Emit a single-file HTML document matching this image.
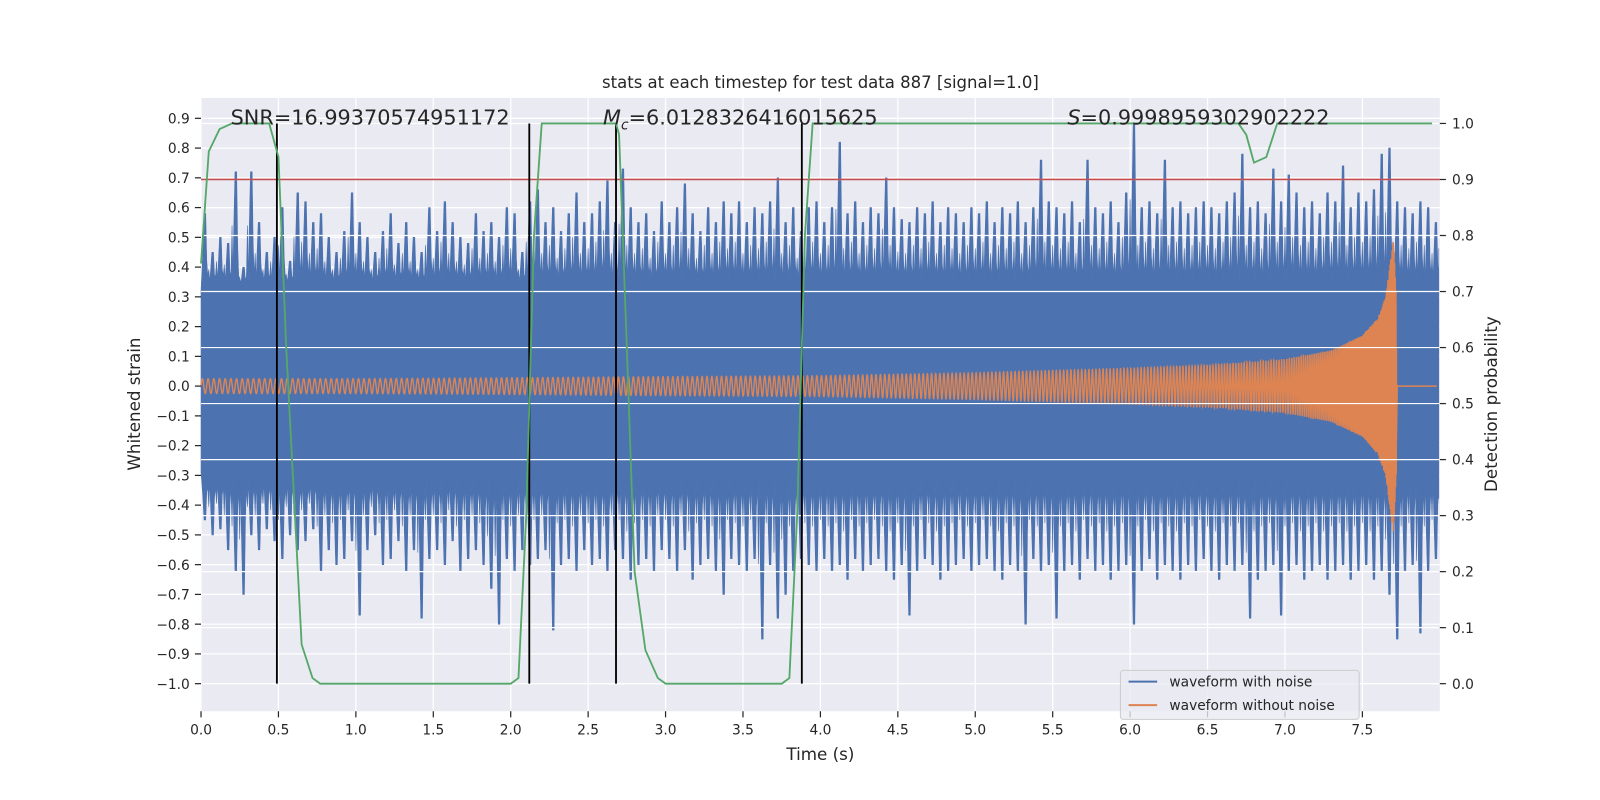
<!DOCTYPE html>
<html><head><meta charset="utf-8"><style>
html,body{margin:0;padding:0;background:#fff;width:1600px;height:800px;overflow:hidden;}
svg{display:block;font-family:"DejaVu Sans","Liberation Sans",sans-serif;}
</style></head><body>
<svg id="c" width="1600" height="800" viewBox="0 0 1568 784" preserveAspectRatio="xMinYMin meet" xmlns="http://www.w3.org/2000/svg">
<rect x="197" y="96" width="1214" height="601" fill="#EAEAF2"/>
<g id="gridL"></g><g id="blue"></g><g id="orange"></g><g id="gridR"></g><g id="marks"></g><g id="axes"></g>
<text x="804" y="86" font-size="16.2" text-anchor="middle" fill="#262626">stats at each timestep for test data 887 [signal=1.0]</text>
<text x="226" y="122" font-size="20.4" fill="#262626">SNR=16.99370574951172</text>
<text x="591" y="122" font-size="20.4" fill="#262626"><tspan font-style="italic">M</tspan><tspan font-style="italic" font-size="13.5" dy="5">c</tspan><tspan dy="-5">=6.0128326416015625</tspan></text>
<text x="1046" y="122" font-size="20.4" fill="#262626"><tspan font-style="italic">S</tspan>=0.9998959302902222</text>
<text x="804" y="745" font-size="16.4" text-anchor="middle" fill="#262626">Time (s)</text>
<text transform="translate(137,396) rotate(-90)" font-size="16.4" text-anchor="middle" fill="#262626">Whitened strain</text>
<text transform="translate(1467,396) rotate(-90)" font-size="16.4" text-anchor="middle" fill="#262626">Detection probability</text>
<g>
<rect x="1098" y="657" width="234" height="48" rx="3" fill="#EAEAF2" fill-opacity="0.8" stroke="#CCCCCC"/>
<line x1="1106" y1="668" x2="1134" y2="668" stroke="#4C72B0" stroke-width="2"/>
<text x="1146" y="673" font-size="13.5" fill="#262626">waveform with noise</text>
<line x1="1106" y1="691" x2="1134" y2="691" stroke="#DD8452" stroke-width="2"/>
<text x="1146" y="696" font-size="13.5" fill="#262626">waveform without noise</text>
</g>
</svg>
<script>
const upperSpikes=[.58,.45,.50,.48,.72,.40,.72,.55,.45,.50,.60,.42,.65,.62,.55,.58,.50,.45,.52,.65,.55,.50,.45,.52,.58,.48,.55,.50,.45,.60,.52,.62,.55,.50,.48,.58,.52,.55,.50,.60,.58,.45,.62,.66,.55,.60,.52,.58,.65,.55,.58,.62,.69,.55,.73,.60,.55,.58,.52,.62,.55,.60,.68,.58,.52,.60,.55,.62,.58,.62,.55,.60,.58,.62,.70,.55,.60,.52,.60,.62,.55,.60,.82,.58,.62,.55,.60,.58,.70,.60,.56,.55,.60,.58,.62,.55,.60,.58,.55,.60,.58,.62,.55,.60,.58,.62,.55,.60,.76,.62,.60,.58,.62,.55,.76,.60,.58,.62,.55,.65,.88,.60,.62,.58,.76,.60,.62,.58,.60,.62,.60,.58,.62,.65,.78,.60,.62,.58,.73,.62,.71,.65,.60,.62,.58,.65,.62,.74,.60,.65,.62,.66,.78,.80,.62,.60,.58,.62,.60,.55];
const lowerSpikes=[-.45,-.50,-.48,-.55,-.62,-.70,-.50,-.55,-.48,-.52,-.58,-.50,-.55,-.52,-.48,-.62,-.55,-.60,-.58,-.52,-.77,-.55,-.50,-.60,-.58,-.52,-.62,-.55,-.78,-.58,-.55,-.60,-.52,-.62,-.58,-.55,-.60,-.68,-.80,-.58,-.62,-.55,-.60,-.58,-.55,-.82,-.60,-.58,-.62,-.55,-.60,-.58,-.62,-.55,-.58,-.65,-.60,-.58,-.62,-.55,-.58,-.62,-.55,-.65,-.60,-.58,-.62,-.70,-.58,-.60,-.62,-.58,-.85,-.60,-.78,-.70,-.62,-.58,-.60,-.62,-.58,-.62,-.60,-.65,-.58,-.62,-.60,-.58,-.62,-.65,-.60,-.77,-.62,-.58,-.60,-.65,-.62,-.60,-.58,-.62,-.60,-.58,-.62,-.65,-.60,-.62,-.80,-.58,-.62,-.60,-.78,-.62,-.60,-.65,-.58,-.62,-.60,-.65,-.62,-.60,-.80,-.62,-.58,-.65,-.60,-.62,-.65,-.60,-.62,-.58,-.62,-.65,-.60,-.62,-.60,-.78,-.65,-.62,-.60,-.77,-.62,-.60,-.65,-.62,-.60,-.65,-.62,-.60,-.65,-.62,-.60,-.65,-.62,-.70,-.85,-.62,-.60,-.83,-.62,-.58];
const noiseCore=[0.32,-0.29];
const chirpTimes=[0,1,2,3,4,5,6,6.5,7,7.3,7.5,7.6,7.65,7.7,7.72];
const chirpAmps=[0.025,0.025,0.028,0.032,0.035,0.045,0.06,0.07,0.09,0.12,0.17,0.23,0.3,0.5,0.3];
const chirpFreqTimes=[0,4,6,7,7.5,7.72];
const chirpFreqs=[27,33,45,60,100,250];
const probTimes=[0,0.05,0.12,0.2,0.44,0.5,0.55,0.65,0.72,0.77,2.0,2.05,2.1,2.15,2.2,2.68,2.7,2.75,2.8,2.87,2.95,3.0,3.75,3.8,3.85,3.9,3.95,6.7,6.75,6.8,6.88,6.95,7.95];
const probVals=[0.75,0.95,0.99,1.0,1.0,0.94,0.6,0.07,0.01,0,0,0.01,0.3,0.8,1.0,1.0,0.98,0.6,0.2,0.06,0.01,0,0,0.01,0.3,0.8,1.0,1.0,0.98,0.93,0.94,1.0,1.0];
const threshold=0.9;
const splitTimes=[0.49,2.12,2.68,3.88];
const xTicks=[0,0.5,1,1.5,2,2.5,3,3.5,4,4.5,5,5.5,6,6.5,7,7.5];
const yTicks=[0.9,0.8,0.7,0.6,0.5,0.4,0.3,0.2,0.1,0,-0.1,-0.2,-0.3,-0.4,-0.5,-0.6,-0.7,-0.8,-0.9,-1.0];
const y2Ticks=[0,0.1,0.2,0.3,0.4,0.5,0.6,0.7,0.8,0.9,1.0];

const NS="http://www.w3.org/2000/svg";
const X=t=>197+t*151.75, Y=v=>378.4-v*291.6, Y2=p=>670-p*549;
function mk(tag,parent,attrs){const e=document.createElementNS(NS,tag);for(const k in attrs)e.setAttribute(k,attrs[k]);document.getElementById(parent).appendChild(e);return e;}
function interp(xs,ys,x){if(x<=xs[0])return ys[0];for(let i=1;i<xs.length;i++){if(x<=xs[i]){const f=(x-xs[i-1])/(xs[i]-xs[i-1]);return ys[i-1]+f*(ys[i]-ys[i-1]);}}return ys[ys.length-1];}

xTicks.forEach(t=>{const l=mk('line','gridL',{x1:X(t),x2:X(t),y1:96,y2:697,stroke:'#fff','stroke-width':1.2});
});
yTicks.forEach(v=>{const l=mk('line','gridL',{x1:197,x2:1411,y1:Y(v),y2:Y(v),stroke:'#fff','stroke-width':1.2});
});
y2Ticks.forEach(p=>{const l=mk('line','gridR',{x1:197,x2:1411,y1:Y2(p),y2:Y2(p),stroke:'#fff','stroke-width':1.2});
});

(function(){const dt=0.05,n=upperSpikes.length;let up=[],lo=[];
for(let i=0;i<n;i++){const xc=X(i*dt+0.025);
const un=upperSpikes[(i+1)%n],ln=lowerSpikes[(i+1)%n];
up.push([xc-2.2,Y(noiseCore[0]+0.45*(upperSpikes[i]-noiseCore[0]))]);
up.push([xc-0.8,Y(upperSpikes[i])],[xc+0.8,Y(upperSpikes[i])]);
up.push([xc+1.8,Y(noiseCore[0]+0.4*(upperSpikes[i]-noiseCore[0]))]);
up.push([xc+2.8,Y(noiseCore[0]+0.05)]);
up.push([xc+3.8,Y(noiseCore[0]+0.55*(un-noiseCore[0]))]);
up.push([xc+4.8,Y(noiseCore[0]+0.03)]);
lo.push([xc-2.2,Y(noiseCore[1]+0.45*(lowerSpikes[i]-noiseCore[1]))]);
lo.push([xc-0.8,Y(lowerSpikes[i])],[xc+0.8,Y(lowerSpikes[i])]);
lo.push([xc+1.8,Y(noiseCore[1]+0.4*(lowerSpikes[i]-noiseCore[1]))]);
lo.push([xc+2.8,Y(noiseCore[1]-0.05)]);
lo.push([xc+3.8,Y(noiseCore[1]+0.55*(ln-noiseCore[1]))]);
lo.push([xc+4.8,Y(noiseCore[1]-0.03)]);}
const xe=X(n*dt)-1;
let pts=[[197,Y(noiseCore[0])]].concat(up).concat([[xe,Y(noiseCore[0])],[xe,Y(noiseCore[1])]]).concat(lo.reverse()).concat([[197,Y(noiseCore[1])]]);
pts=pts.map(p=>[Math.min(Math.max(p[0],197),xe),p[1]]);
const p=mk('polygon','blue',{points:pts.map(q=>q[0].toFixed(1)+','+q[1].toFixed(1)).join(' '),fill:'#4C72B0',stroke:'#4C72B0','stroke-width':0.6});
})();

(function(){let d='',ph=0,t=0;const dt=0.0005,tEnd=chirpTimes[chirpTimes.length-1];
for(t=0;t<=tEnd;t+=dt){const f=interp(chirpFreqTimes,chirpFreqs,t);ph+=2*Math.PI*f*dt;
const a=interp(chirpTimes,chirpAmps,t);d+=(d?'L':'M')+X(t).toFixed(2)+','+Y(a*Math.sin(ph)).toFixed(2);}
d+='L'+X(tEnd).toFixed(2)+','+Y(0)+'L'+X(7.98).toFixed(2)+','+Y(0);
const p=mk('path','orange',{d:d,fill:'none',stroke:'#DD8452','stroke-width':1.4});

const tip=mk('path','orange',{d:'M'+X(7.66)+','+Y(0.1)+'L'+X(7.695)+','+Y(chirpAmps[13])+'L'+X(7.72)+','+Y(-0.32)+'L'+X(7.73)+','+Y(0)+'Z',fill:'#DD8452'});
})();

(function(){const r=mk('line','marks',{x1:197,x2:1411,y1:Y2(threshold),y2:Y2(threshold),stroke:'#C44E52','stroke-width':1.6});

splitTimes.forEach(t=>{const l=mk('line','marks',{x1:X(t),x2:X(t),y1:Y2(1.0),y2:Y2(0),stroke:'#000','stroke-width':1.8});
});
const d=probTimes.map((t,i)=>(i?'L':'M')+X(t).toFixed(1)+','+Y2(probVals[i]).toFixed(1)).join('');
const g=mk('path','marks',{d:d,fill:'none',stroke:'#55A868','stroke-width':1.8});
})();

xTicks.forEach(t=>{const l=mk('line','axes',{x1:X(t),x2:X(t),y1:697,y2:703,stroke:'#262626','stroke-width':1.2});

const s=mk('text','axes',{x:X(t),y:720,'font-size':13.5,'text-anchor':'middle',fill:'#262626'});s.textContent=t.toFixed(1);
});
yTicks.forEach(v=>{const l=mk('line','axes',{x1:191,x2:197,y1:Y(v),y2:Y(v),stroke:'#262626','stroke-width':1.2});

const s=mk('text','axes',{x:186,y:Y(v)+5,'font-size':13.5,'text-anchor':'end',fill:'#262626'});s.textContent=(v<0?'\u2212'+(-v).toFixed(1):v.toFixed(1));
});
y2Ticks.forEach(p=>{const l=mk('line','axes',{x1:1411,x2:1417,y1:Y2(p),y2:Y2(p),stroke:'#262626','stroke-width':1.2});

const s=mk('text','axes',{x:1423,y:Y2(p)+5,'font-size':13.5,fill:'#262626'});s.textContent=p.toFixed(1);
});
</script>
</body></html>
